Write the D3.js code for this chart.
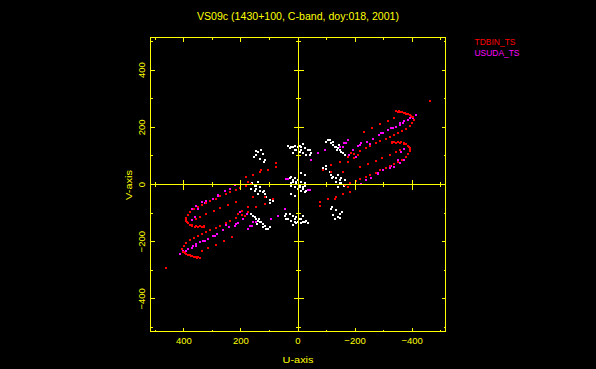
<!DOCTYPE html>
<html>
<head>
<meta charset="utf-8">
<script src="https://cdn.jsdelivr.net/npm/d3@7"></script>
<style>
  body { margin: 0; background: #000; }
  #chart-area { width: 596px; height: 369px; }
  text { font-family: "Liberation Sans", Arial, sans-serif; }
</style>
</head>
<body>
<div id="chart-area"></div>
<script>
// u,v samples (one half only, the conjugate half is drawn as -u,-v)
var tdbinPoints = [
  [-349,253],[-359,253],[-370,250],[-380,246],[-391,243],[-401,236],[-405,226],[-398,215],
  [-391,204],[-377,194],[-363,187],[-349,180],[-335,173],[-321,166],[-307,159],[-289,152],
  [-272,145],[-254,134],[-237,127],[-216,117],[-195,106],[-174,96],
  [-345,257],[-354,257],[-363,255],[-375,250],[-386,246],[-396,241],[-404,236],
  [-338,232],[-314,222],[-286,211],[-258,197],[-233,183],
  [-331,145],[-345,145],[-359,145],[-373,141],[-384,134],[-391,127],[-391,117],[-384,106],
  [-377,96],[-366,85],[-352,78],[-338,71],[-324,64],[-307,57],[-289,50],[-272,40],[-254,33],
  [-237,26],[-219,19],[-202,12],[-181,5],[-163,-2],
  [-328,148],[-338,148],[-350,148],[-362,147],[-372,145],[-380,140],[-388,132],[-394,122],
  [-356,120],[-342,113],[-321,103],[-296,92],[-272,82],[-244,71],[-216,61],
  [-187,109],[-212,103],[-198,92],[-175,79],[-146,79],[-117,68],[-117,44],[-88,50],[-158,44],
  [-175,-8],[-181,-26],[-158,-32],[-134,-43],[-105,-49],[-76,-61],[-76,-76],[-128,-49],
  [-462,292]
];

var usudaPoints = [
  [-412,243],[-403,231],[-385,225],[-368,214],[-356,207],[-342,200],[-327,196],[-315,190],
  [-298,181],[-284,173],[-263,159],[-242,147],[-222,144],[-210,134],[-193,120],[-179,103],
  [-160,146],[-175,155],[-93,120],[-70,109],[-47,85],[-41,-20],
  [-216,138],[-251,143],[-292,179],[-333,196],[-356,214],[-373,223],[-391,231],
  [-169,144],[-158,132],[-146,132],[-204,97],[-35,-20],
  [-373,123],[-362,114],[-350,85],[-327,64],[-309,56],[-280,36],[-239,15],[-222,1],
  [-385,105],[-373,87],[-356,74],[-338,62],[-321,56],[-298,50],[-280,39],[-257,21]
];

var otherPoints = [
  [-99,149],[-111,155],[-117,144],[-123,138],[-134,132],[-140,126],[-146,120],[-152,114],
  [-158,109],[-123,149],[-142,138],[-104,155],[-128,131],[-163,103],[-135,120],
  [23,132],[12,134],[0,132],[-12,130],[-23,126],[-35,120],[6,120],[-6,114],[-18,109],
  [-29,103],[18,109],[35,134],[18,132],[-6,134],[12,120],[-12,120],[-41,103],[-18,141],
  [-47,109],[29,126],[-41,120],
  [-88,56],[-99,53],[-111,44],[-117,33],[-123,27],[-134,21],[-146,15],[-134,9],[-146,4],
  [-140,33],[-152,21],[-152,4],[-97,64],[-163,15],[-160,-6],[-118,22],[-139,-9],
  [23,27],[12,21],[0,15],[-12,9],[-23,4],[18,9],[29,21],[18,15],[6,9],[23,4],[-6,-2],
  [-18,-8],[-12,39],[-23,33],
  [-117,-84],[-134,-90],[-146,-102],[-139,-113],[-128,-119],[-121,-107],[-118,-79],
  [-153,-97],[-146,-118]
];

var tickValues = [-500,-400,-300,-200,-100,0,100,200,300,400,500];
var labelValues = [-400,-200,0,200,400];
var legendNames = ["TDBIN_TS", "USUDA_TS"];

var width = 596, height = 369;
var yellow = "#ffff00";

var svg = d3.select("#chart-area").append("svg")
    .attr("width", width)
    .attr("height", height)
    .style("background", "#000");

var x = d3.scaleLinear().domain([517, -517]).range([150.5, 445.5]);
var y = d3.scaleLinear().domain([-514, 514]).range([331.5, 37.5]);

function px(v) { return Math.round(x(v) - 0.5) + 0.5; }
function py(v) { return Math.round(y(v) - 0.5) + 0.5; }

// points (and their conjugates)
function addPoints(points, color) {
  var all = points.concat(points.map(function(d) { return [-d[0], -d[1]]; }));
  svg.append("g").selectAll("rect")
      .data(all)
    .enter().append("rect")
      .attr("x", function(d) { return Math.round(x(d[0])) - 1; })
      .attr("y", function(d) { return Math.round(y(d[1])) - 1; })
      .attr("width", 2)
      .attr("height", 2)
      .attr("fill", color)
      .attr("shape-rendering", "crispEdges");
}
addPoints(otherPoints, "#ffffff");
addPoints(usudaPoints, "#ff00ff");
addPoints(tdbinPoints, "#ff0000");

var axes = svg.append("g")
    .attr("stroke", yellow)
    .attr("stroke-width", 1)
    .attr("shape-rendering", "crispEdges");

// frame
axes.append("rect")
    .attr("x", 150.5).attr("y", 37.5)
    .attr("width", 295).attr("height", 294)
    .attr("fill", "none");

// zero lines
axes.append("line")
    .attr("x1", px(0)).attr("x2", px(0))
    .attr("y1", 37.5).attr("y2", 331.5);
axes.append("line")
    .attr("x1", 150.5).attr("x2", 445.5)
    .attr("y1", py(0)).attr("y2", py(0));

function tickLen(v) { return v % 200 == 0 ? 4 : 2; }
function crossLen(v) { return v % 200 == 0 ? 5 : 2.5; }

tickValues.forEach(function(v) {
  var tx = px(v), ty = py(v);
  // bottom / top
  axes.append("line").attr("x1", tx).attr("x2", tx).attr("y1", 331.5).attr("y2", 331.5 - tickLen(v));
  axes.append("line").attr("x1", tx).attr("x2", tx).attr("y1", 37.5).attr("y2", 37.5 + tickLen(v));
  // left / right
  axes.append("line").attr("y1", ty).attr("y2", ty).attr("x1", 150.5).attr("x2", 150.5 + tickLen(v));
  axes.append("line").attr("y1", ty).attr("y2", ty).attr("x1", 445.5).attr("x2", 445.5 - tickLen(v));
  if (v != 0) {
    axes.append("line").attr("x1", tx).attr("x2", tx)
        .attr("y1", py(0) - crossLen(v)).attr("y2", py(0) + crossLen(v));
    axes.append("line").attr("y1", ty).attr("y2", ty)
        .attr("x1", px(0) - crossLen(v)).attr("x2", px(0) + crossLen(v));
  }
});

var fmt = d3.format("d");

svg.selectAll(".xlabel")
    .data(labelValues)
  .enter().append("text")
    .attr("class", "xlabel")
    .attr("x", function(d) { return x(d); })
    .attr("y", 343.5)
    .attr("text-anchor", "middle")
    .attr("font-size", "9.5px")
    .attr("fill", yellow)
    .text(function(d) { return fmt(d); });

svg.selectAll(".ylabel")
    .data(labelValues)
  .enter().append("text")
    .attr("class", "ylabel")
    .attr("transform", function(d) { return "translate(144.5," + y(d) + ") rotate(-90)"; })
    .attr("text-anchor", "middle")
    .attr("font-size", "9.5px")
    .attr("fill", yellow)
    .text(function(d) { return fmt(d); });

svg.append("text")
    .attr("x", 298).attr("y", 20)
    .attr("text-anchor", "middle")
    .attr("font-size", "10px")
    .attr("fill", yellow)
    .attr("textLength", 202)
    .attr("lengthAdjust", "spacingAndGlyphs")
    .text("VS09c (1430+100, C-band, doy:018, 2001)");

svg.append("text")
    .attr("x", 298).attr("y", 362.5)
    .attr("text-anchor", "middle")
    .attr("font-size", "9.5px")
    .attr("fill", yellow)
    .attr("textLength", 31)
    .attr("lengthAdjust", "spacingAndGlyphs")
    .text("U-axis");

svg.append("text")
    .attr("transform", "translate(131.5,185) rotate(-90)")
    .attr("text-anchor", "middle")
    .attr("font-size", "9.5px")
    .attr("fill", yellow)
    .attr("textLength", 30)
    .attr("lengthAdjust", "spacingAndGlyphs")
    .text("V-axis");

var legendColors = ["#ff0000", "#ff00ff"];
var legendWidths = [41, 45];
legendNames.forEach(function(name, i) {
  svg.append("text")
      .attr("x", 474.5)
      .attr("y", 45 + i * 10.5)
      .attr("font-size", "9.5px")
      .attr("fill", legendColors[i])
      .attr("textLength", legendWidths[i])
      .attr("lengthAdjust", "spacingAndGlyphs")
      .text(name);
});
</script>
</body>
</html>
